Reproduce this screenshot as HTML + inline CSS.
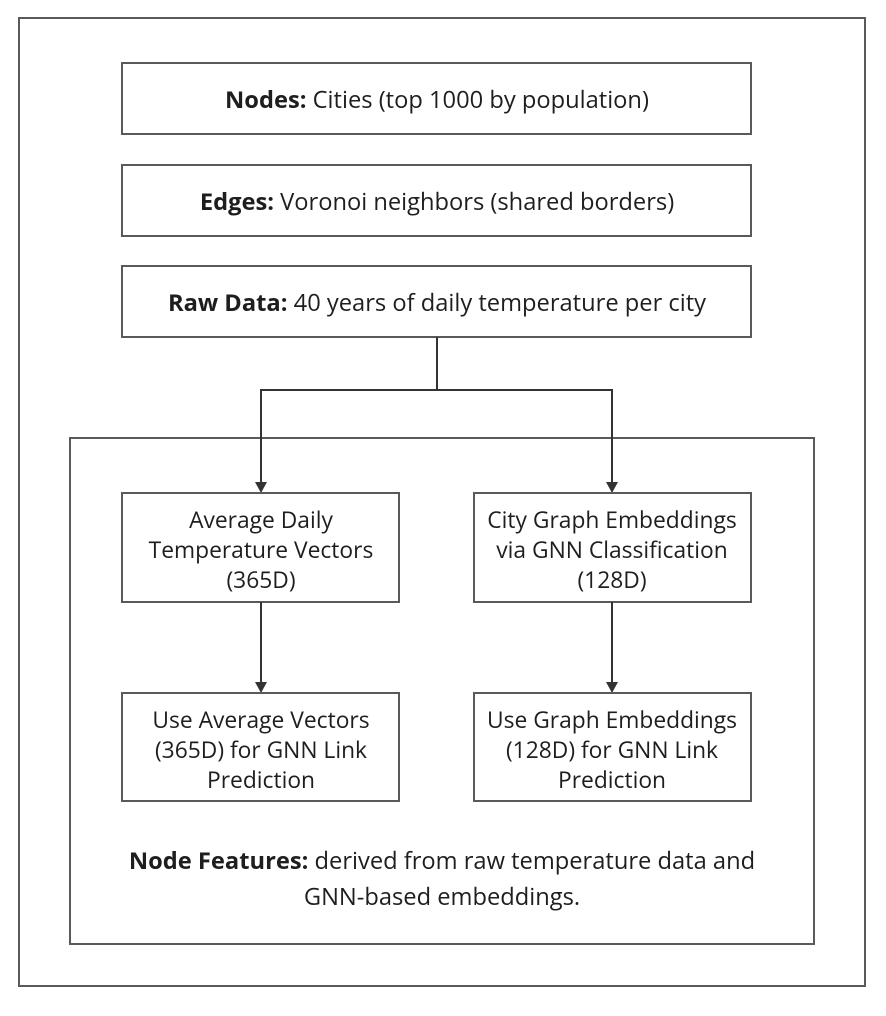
<!DOCTYPE html>
<html><head><meta charset="utf-8"><style>
body{margin:0;background:#fff;}
svg{display:block;font-family:"Open Sans","DejaVu Sans","Liberation Sans",sans-serif;}
text{fill:#1e1e1e;font-size:22.8px;text-anchor:middle;}
.big{font-size:23.7px;}
.b{font-weight:bold;}
rect{fill:#fff;stroke:#5a5a5a;stroke-width:2;}
.ln{stroke:#333;stroke-width:2;fill:none;}
.ar{fill:#333;}
</style></head><body>
<svg width="886" height="1016" viewBox="0 0 886 1016">
<rect x="19" y="18" width="846" height="968"/>
<rect x="122" y="63" width="629" height="71"/>
<text class="big" x="437" y="108"><tspan class="b">Nodes:</tspan> Cities (top 1000 by population)</text>
<rect x="122" y="165" width="629" height="71"/>
<text class="big" x="437" y="210"><tspan class="b">Edges:</tspan> Voronoi neighbors (shared borders)</text>
<rect x="122" y="266" width="629" height="71"/>
<text class="big" x="437" y="311"><tspan class="b">Raw Data:</tspan> 40 years of daily temperature per city</text>
<rect x="70" y="438" width="744" height="506"/>
<path class="ln" d="M437 337 V390 M261 484 V390 H612 V484"/>
<polygon class="ar" points="255,482 267,482 261,493"/>
<polygon class="ar" points="606,482 618,482 612,493"/>
<rect x="122" y="493" width="277" height="109"/>
<text x="261" y="528"><tspan x="261">Average Daily</tspan><tspan x="261" dy="30">Temperature Vectors</tspan><tspan x="261" dy="30">(365D)</tspan></text>
<rect x="474" y="493" width="277" height="109"/>
<text x="612" y="528"><tspan x="612">City Graph Embeddings</tspan><tspan x="612" dy="30">via GNN Classification</tspan><tspan x="612" dy="30">(128D)</tspan></text>
<path class="ln" d="M261 602 V684 M612 602 V684"/>
<polygon class="ar" points="255,682 267,682 261,693"/>
<polygon class="ar" points="606,682 618,682 612,693"/>
<rect x="122" y="693" width="277" height="108"/>
<text x="261" y="728"><tspan x="261">Use Average Vectors</tspan><tspan x="261" dy="30">(365D) for GNN Link</tspan><tspan x="261" dy="30">Prediction</tspan></text>
<rect x="474" y="693" width="277" height="108"/>
<text x="612" y="728"><tspan x="612">Use Graph Embeddings</tspan><tspan x="612" dy="30">(128D) for GNN Link</tspan><tspan x="612" dy="30">Prediction</tspan></text>
<text class="big" x="442" y="869"><tspan class="b">Node Features:</tspan> derived from raw temperature data and</text>
<text class="big" x="442" y="905">GNN-based embeddings.</text>
</svg>
</body></html>
